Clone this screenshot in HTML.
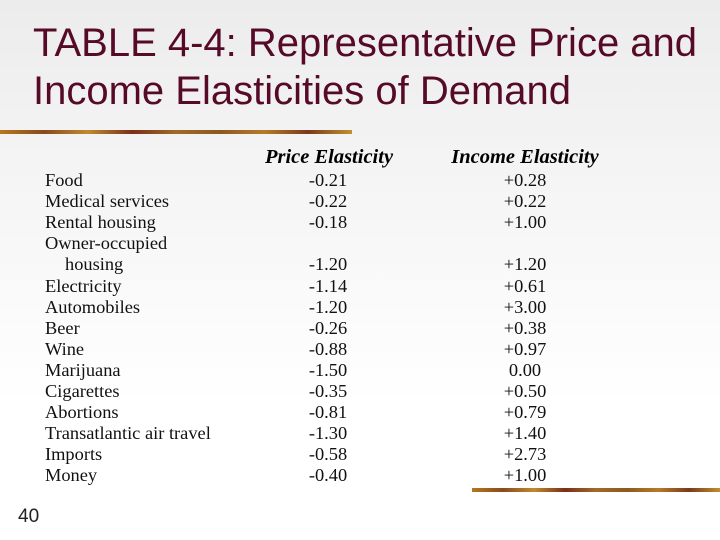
<!DOCTYPE html>
<html><head><meta charset="utf-8"><style>
body{margin:0;width:720px;height:540px;overflow:hidden;background:linear-gradient(180deg,#ececec 0%,#f4f4f4 30%,#ffffff 75%);position:relative;font-family:"Liberation Serif",serif}
.t{position:absolute;left:33px;font-family:"Liberation Sans",sans-serif;font-size:40px;line-height:46px;color:#560a28;white-space:nowrap}
.bar{position:absolute;height:4px;background:linear-gradient(90deg,#b5781e,#8a4a1c,#c08a30,#7a3018,#a06a28,#8b5a20,#b87a2a,#7a3a1a,#c09030)}
.r{position:absolute;font-size:18.4px;color:#111;white-space:nowrap;line-height:20px}
.h{position:absolute;font-size:20.5px;font-weight:bold;font-style:italic;white-space:nowrap;line-height:20px}
.c{transform:translateX(-50%)}
</style></head><body>
<div class="t" style="top:20px">TABLE 4-4: Representative Price and</div>
<div class="t" style="top:68px">Income Elasticities of Demand</div>
<div class="bar" style="left:0;top:130px;width:352px"></div>
<div class="bar" style="left:472px;top:488px;width:248px"></div>
<div class="h c" style="left:329px;top:147px">Price Elasticity</div>
<div class="h c" style="left:525px;top:147px">Income Elasticity</div>
<div id="tb"></div>
<div style="position:absolute;left:18px;top:506px;font-family:'Liberation Sans',sans-serif;font-size:19px;color:#222">40</div>
<script>
const goods=["Food","Medical services","Rental housing","Owner-occupied","    housing","Electricity","Automobiles","Beer","Wine","Marijuana","Cigarettes","Abortions","Transatlantic air travel","Imports","Money"];
const price=["-0.21","-0.22","-0.18","","-1.20","-1.14","-1.20","-0.26","-0.88","-1.50","-0.35","-0.81","-1.30","-0.58","-0.40"];
const income=["+0.28","+0.22","+1.00","","+1.20","+0.61","+3.00","+0.38","+0.97","0.00","+0.50","+0.79","+1.40","+2.73","+1.00"];
const tb=document.getElementById('tb');
goods.forEach((g,i)=>{
 const y=170+i*21.1;
 const a=document.createElement('div');a.className='r';
 
 
 a.style.left=(i===4?65:45)+'px';a.style.top=y+'px';a.textContent=g.trim();tb.appendChild(a);
 [[price[i],328],[income[i],525]].forEach(([v,x],k)=>{
  if(!v)return;
  const d=document.createElement('div');d.className='r c';
  
  
  d.style.left=x+'px';d.style.top=y+'px';d.textContent=v;tb.appendChild(d);
 });
});
</script>
</body></html>
